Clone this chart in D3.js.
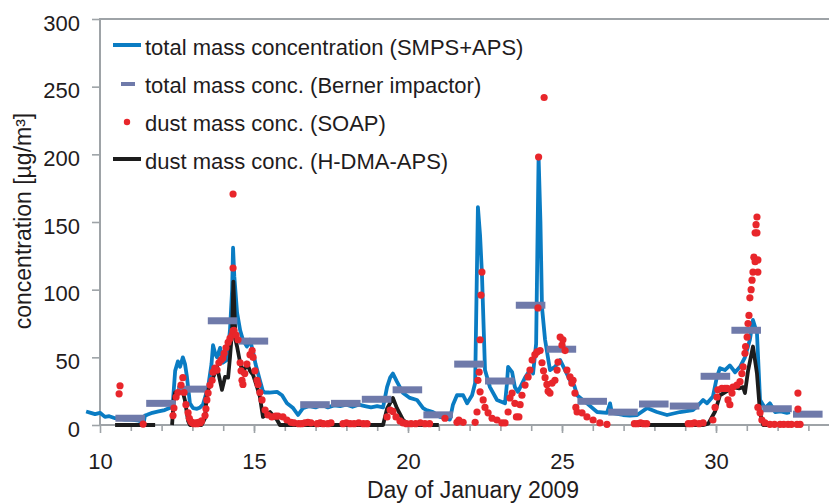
<!DOCTYPE html>
<html>
<head>
<meta charset="utf-8">
<script src="https://cdn.jsdelivr.net/npm/d3@7"></script>
<style>
  html, body { margin: 0; padding: 0; background: #fff; }
  svg text { font-family: "Liberation Sans", Arial, Helvetica, sans-serif; fill: #1f1c1d; }
</style>
</head>
<body>
<div id="chart"></div>
<script>
// ── Data (day of January 2009, concentration µg/m³) ──────────
const totalSmpsAps = [
  [9.55,10],[9.7,9],[9.84,8],[10.0,9],[10.16,6],[10.3,6.5],[10.49,5],[10.65,4.5],[10.81,4],[11.0,4],
  [11.2,3.5],[11.36,2.5],[11.42,2],[11.46,7],[11.53,7.5],[11.7,9],[11.9,10],[12.1,11],[12.3,13],[12.37,18],
  [12.44,40],[12.53,47],[12.6,43],[12.69,50],[12.76,45],[12.82,36],[12.92,16],[13.02,12.5],[13.15,12],[13.25,13],
  [13.34,15],[13.51,28],[13.62,45],[13.67,59],[13.75,52],[13.8,50],[13.9,57],[13.99,46],[14.12,48],[14.22,70],
  [14.29,100],[14.32,131],[14.36,110],[14.45,83],[14.55,70],[14.64,63],[14.77,58],[14.87,63],[14.97,54],[15.05,45],
  [15.19,33],[15.29,25],[15.36,24],[15.5,24],[15.75,24.5],[15.91,22],[16.07,16],[16.27,12.5],[16.43,7.4],[16.59,12.5],
  [16.8,14],[17.0,13],[17.2,15],[17.4,13],[17.6,14.5],[17.8,14],[18.0,15],[18.2,13.5],[18.4,15],[18.6,14],
  [18.8,13],[19.0,14],[19.19,13],[19.32,28],[19.42,35],[19.51,38],[19.64,32],[19.84,23.6],[20.06,20],[20.29,18.5],
  [20.49,12.5],[20.6,11],[20.81,9.6],[21.04,6],[21.2,5],[21.36,4],[21.46,15],[21.59,22],[21.79,22],[21.92,16],
  [22.08,22],[22.18,31],[22.27,161],[22.34,140],[22.40,112],[22.50,40.6],[22.66,28],[22.89,18.5],[23.15,16],[23.21,30],
  [23.25,43],[23.38,39],[23.47,28],[23.57,24.5],[23.80,35],[23.96,40.6],[24.06,38],[24.16,60],[24.24,198],[24.30,150],
  [24.35,87],[24.45,63],[24.61,40.6],[24.77,43],[24.94,48],[25.10,40.6],[25.26,33],[25.40,29],[25.49,22],[25.81,16],
  [26.14,9.6],[26.46,8.9],[26.56,16],[26.62,9],[26.98,7.4],[27.2,7],[27.44,7.4],[27.76,12.5],[28.08,9.6],[28.41,7.4],
  [28.83,9.6],[29.25,11],[29.4,14],[29.58,18.5],[29.71,16],[29.90,21],[30.03,35.5],[30.13,42],[30.29,40.6],[30.45,44],
  [30.62,39],[30.78,43],[30.94,50],[31.10,63],[31.20,77.6],[31.33,68],[31.43,18.5],[31.59,12.5],[31.75,16],[31.92,9.6],
  [32.1,10],[32.3,9],[32.4,9.5]
];

// Berner impactor: one sample per day, starting half a day in
const bernerStart  = [10.5,11.5,12.5,13.5,14.5,16.5,17.5,18.5,19.5,20.5,21.5,22.5,23.5,24.5,25.5,26.5,27.5,28.5,29.5,30.5,31.5,32.5];
const bernerValues = [5,16,26.5,77,62,15,16,19,26,7.5,45,32.5,88.5,56,17.5,9.5,15.5,14,36,70,12,8];
const bernerLength = 0.96;

// H-DMA-APS dust (null = gap in the record)
const dustHdma = [
  [10.49,0],[11.79,0],[11.8,null],
  [12.34,0],[12.40,20],[12.44,24],[12.55,25],[12.66,27],[12.76,18],[12.86,3],[12.92,0],[13.30,0],[13.41,5],[13.47,24],
  [13.64,33],[13.80,43],[13.96,26],[14.06,35.5],[14.16,35],[14.22,50],[14.29,70],[14.33,106],[14.40,63],[14.45,58],
  [14.55,46],[14.64,38],[14.77,46],[14.87,40],[14.97,37],[15.10,28],[15.19,21],[15.29,6],[15.52,9.6],[15.75,3.7],
  [15.84,0],[19.19,0],[19.32,12],[19.51,20],[19.64,12.5],[19.84,3.7],[20.06,0],[21.0,0],[21.01,null],
  [27.3,0],[29.6,0],[29.75,1],[29.97,10],[30.13,22],[30.36,25],[30.55,28],[30.75,27],[30.88,28],[30.94,23.6],
  [31.04,40],[31.20,58],[31.33,38],[31.43,9],[31.53,0],[31.7,0]
];

// SOAP dust (single points)
const dustSoap = [
  [10.62,23],[10.65,29],[11.40,0.7],
  [12.37,7],[12.40,12.5],[12.47,20.7],[12.53,24],[12.63,29.5],[12.69,35],[12.73,24],[12.79,15],[12.86,9],[12.90,5],
  [12.95,2.5],[13.00,1.5],[13.05,1],[13.10,1.5],[13.15,1],[13.20,2],[13.25,1.5],[13.30,3],
  [13.41,7],[13.44,12],[13.47,18.5],[13.51,23.6],[13.57,29.5],[13.64,33],[13.67,39],[13.73,42],[13.80,40.6],[13.86,46],[13.93,48],
  [13.99,49.5],[14.03,53],[14.09,57],[14.16,61],[14.22,64],[14.29,66.5],[14.32,69.5],[14.32,116],[14.32,170.7],[14.35,70],
  [14.42,66.5],[14.48,63],[14.55,46],[14.58,40],[14.61,33],[14.64,30],[14.70,38],[14.77,45],[14.87,52],[14.94,55],
  [14.97,50],[15.03,40],[15.10,33],[15.13,30],[15.19,24],[15.26,18.5],[15.36,11],[15.45,7.4],[15.58,6],[15.70,6.5],
  [15.78,6.6],[15.94,6],[16.07,3.7],[16.20,2],[16.30,1.5],
  [16.45,1],[16.55,1],[16.65,1.5],[16.75,2],[16.85,1.5],[17.05,1],[17.15,1.5],[17.25,1],[17.40,1],[17.50,1.5],
  [17.89,1],[18.00,1.5],[18.12,1],[18.25,1],[18.40,1.5],[18.55,1],[18.67,1],
  [19.32,6],[19.42,11],[19.51,10],[19.61,6],[19.74,3],[19.84,1.5],[19.95,1],[20.10,1],[20.25,1],[20.40,1.5],[20.55,1],[20.70,1],
  [21.20,5],[21.59,2],[21.65,3.7],[21.79,2],[22.18,2],[22.24,9.6],[22.27,33],[22.31,39],[22.34,24.5],[22.34,63],
  [22.37,96],[22.40,113],[22.44,18.5],[22.50,13],[22.60,9],[22.73,5],[22.89,3.7],[23.05,1.5],[23.15,1.5],[23.25,9.6],
  [23.31,20],[23.38,23.6],[23.47,16],[23.52,6],[23.60,6],[23.64,15],[23.70,22],[23.80,29.5],[23.90,35.5],[23.96,40.6],
  [24.03,48],[24.12,52],[24.19,54],[24.22,86.5],[24.24,198],[24.42,242],[24.29,55],[24.35,46],[24.40,40],[24.45,35],
  [24.51,30],[24.55,25],[24.61,23.6],[24.68,31],[24.77,33],[24.84,40.6],[24.87,46.5],[24.94,65],[25.00,59],[25.03,63],
  [25.10,55],[25.16,40.6],[25.26,35.5],[25.32,31],[25.36,33],[25.42,23.6],[25.45,13],[25.49,9.6],[25.65,9],[25.81,6],
  [26.01,3.7],[26.23,1.5],[26.46,0.5],
  [27.35,1],[27.45,1],[27.55,1.5],[27.65,1],[27.75,1],
  [29.10,1],[29.20,1],[29.30,1.5],[29.45,1],[29.58,1.5],[29.90,3.7],[29.97,13],[30.03,20.7],[30.06,26],[30.19,27],
  [30.29,27],[30.36,27],[30.39,18.5],[30.45,15],[30.52,23.6],[30.55,28],[30.68,29.5],[30.78,32],[30.84,38],[30.88,43],
  [30.94,53],[30.96,58],[31.01,65],[31.04,75],[31.07,81],[31.10,94],[31.14,100],[31.17,107],[31.20,113],[31.23,124],
  [31.27,120.7],[31.27,142],[31.30,148],[31.33,142],[31.33,153.7],[31.36,122],[31.36,113],[31.36,13],[31.43,9],[31.49,3.7],
  [31.59,1.5],[31.75,0.5],[31.90,0.5],[32.08,0.5],[32.20,0.5],[32.34,0.5],[32.45,0.5],[32.63,0.5],[32.66,23.6],[32.66,11.8],
  [32.73,0.5]
];

const yTicks       = [0, 50, 100, 150, 200, 250, 300];
const xMajorTicks  = [10, 15, 20, 25, 30];
const xMinorTicks  = d3.range(11, 34);
const legendLabels = [
  "total mass concentration (SMPS+APS)",
  "total mass conc. (Berner impactor)",
  "dust mass conc. (SOAP)",
  "dust mass conc. (H-DMA-APS)"
];

const BLUE = "#0a7cc3", BAR = "#6f7aaa", RED = "#e8262b", BLACK = "#1c1c1c", AXIS = "#9ea3a7";

// ── Layout ───────────────────────────────────────────────────
const W = 829, H = 504;
const plot = { left: 100, top: 19, bottom: 425 };

const svg = d3.select("#chart").append("svg")
  .attr("width", W).attr("height", H);

const x = d3.scaleLinear().domain([10, 34]).range([plot.left, plot.left + 24 * 30.8]);
const y = d3.scaleLinear().domain([0, 300]).range([plot.bottom, plot.top]);

// ── Axes ─────────────────────────────────────────────────────
svg.append("g")
  .attr("transform", `translate(0,${plot.bottom})`)
  .call(d3.axisBottom(x).tickValues(xMinorTicks).tickSize(6).tickFormat(""))
  .call(ax => ax.select(".domain").remove())
  .call(ax => ax.selectAll("line").attr("stroke", AXIS).attr("stroke-width", 1.6));

svg.append("g")
  .attr("transform", `translate(0,${plot.bottom})`)
  .call(d3.axisBottom(x).tickValues(xMajorTicks).tickSize(8).tickPadding(20).tickFormat(d3.format("d")))
  .call(ax => ax.select(".domain").remove())
  .call(ax => ax.selectAll("line").attr("stroke", AXIS).attr("stroke-width", 1.6))
  .call(ax => ax.selectAll("text").attr("font-size", 22).attr("font-family", null).attr("fill", null));

svg.append("g")
  .attr("transform", `translate(${plot.left},0)`)
  .call(d3.axisLeft(y).tickValues(yTicks).tickSize(8).tickPadding(12))
  .call(ax => ax.select(".domain").remove())
  .call(ax => ax.selectAll("line").attr("stroke", AXIS).attr("stroke-width", 1.6))
  .call(ax => ax.selectAll("text").attr("font-size", 22).attr("dy", "0.5em")
    .attr("font-family", null).attr("fill", null));

// frame: left, bottom, top
svg.append("path")
  .attr("d", `M${W},${plot.top}H${plot.left}V${plot.bottom}H${W}`)
  .attr("fill", "none").attr("stroke", AXIS).attr("stroke-width", 2);

// ── Axis titles ──────────────────────────────────────────────
svg.append("text")
  .attr("x", 473).attr("y", 498)
  .attr("text-anchor", "middle").attr("font-size", 23)
  .text("Day of January 2009");

svg.append("text")
  .attr("transform", "translate(31,221) rotate(-90)")
  .attr("text-anchor", "middle").attr("font-size", 23)
  .text("concentration [µg/m³]");

// ── Series ───────────────────────────────────────────────────
const line = d3.line()
  .defined(d => d[1] !== null)
  .x(d => x(d[0])).y(d => y(d[1]));

svg.append("path").datum(totalSmpsAps)
  .attr("d", line).attr("fill", "none")
  .attr("stroke", BLUE).attr("stroke-width", 3.8).attr("stroke-linejoin", "round");

svg.append("path").datum(dustHdma)
  .attr("d", line).attr("fill", "none")
  .attr("stroke", BLACK).attr("stroke-width", 3.8).attr("stroke-linejoin", "round");

svg.selectAll("rect.berner").data(bernerStart).join("rect")
  .attr("class", "berner")
  .attr("x", d => x(d))
  .attr("width", d => x(d + bernerLength) - x(d))
  .attr("y", (d, i) => y(bernerValues[i]) - 3.5)
  .attr("height", 7)
  .attr("fill", BAR);

svg.selectAll("circle.soap").data(dustSoap).join("circle")
  .attr("class", "soap")
  .attr("cx", d => x(d[0])).attr("cy", d => y(d[1]))
  .attr("r", 3.6).attr("fill", RED);

// ── Legend ───────────────────────────────────────────────────
const lg = svg.append("g");
const rowY = [55, 93, 131, 169];

lg.append("line").attr("x1", 113).attr("x2", 141).attr("y1", rowY[0] - 10).attr("y2", rowY[0] - 10)
  .attr("stroke", BLUE).attr("stroke-width", 4);
lg.append("rect").attr("x", 121).attr("width", 14).attr("y", rowY[1] - 11).attr("height", 4)
  .attr("fill", BAR);
lg.append("circle").attr("cx", 127).attr("cy", rowY[2] - 9).attr("r", 3.2).attr("fill", RED);
lg.append("line").attr("x1", 113).attr("x2", 141).attr("y1", rowY[3] - 10).attr("y2", rowY[3] - 10)
  .attr("stroke", BLACK).attr("stroke-width", 4);

legendLabels.forEach((label, i) => {
  lg.append("text")
    .attr("x", 145).attr("y", rowY[i])
    .attr("font-size", 22)
    .text(label);
});
</script>
</body>
</html>
